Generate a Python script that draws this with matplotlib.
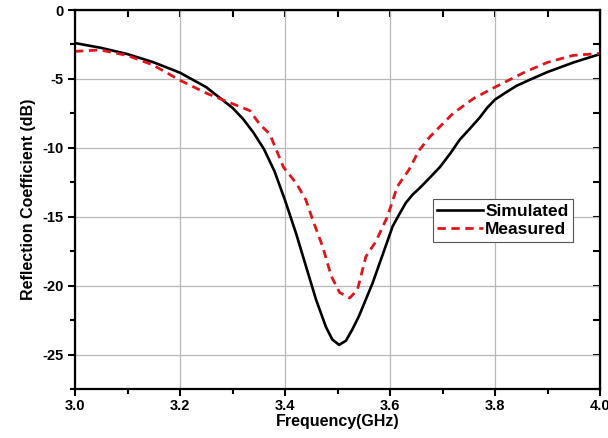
import matplotlib
matplotlib.use("Agg")
import matplotlib.pyplot as plt
from matplotlib.ticker import MultipleLocator

plt.rcParams['font.family'] = ['Liberation Sans', 'DejaVu Sans']
plt.rcParams['font.weight'] = 'bold'
plt.rcParams['axes.unicode_minus'] = False

# simulated S11
sim_f = [3.0, 3.05, 3.1, 3.15, 3.2, 3.25, 3.3, 3.32, 3.34, 3.36, 3.38, 3.4, 3.421,
         3.44, 3.459, 3.478, 3.49, 3.503, 3.516, 3.528, 3.541, 3.554, 3.567, 3.58,
         3.593, 3.605, 3.618, 3.63, 3.643, 3.657, 3.675, 3.695, 3.715, 3.733, 3.75,
         3.771, 3.785, 3.8, 3.82, 3.841, 3.87, 3.9, 3.95, 4.0]
sim_db = [-2.4, -2.75, -3.2, -3.8, -4.55, -5.6, -7.1, -7.9, -8.9, -10.1, -11.7, -13.8, -16.2,
          -18.6, -21.0, -23.0, -23.9, -24.3, -24.0, -23.2, -22.2, -21.0, -19.8, -18.4,
          -17.0, -15.7, -14.8, -14.0, -13.4, -12.9, -12.2, -11.4, -10.4, -9.4, -8.7,
          -7.8, -7.1, -6.5, -6.0, -5.5, -5.0, -4.5, -3.8, -3.2]

# measured S11
meas_f = [3.0, 3.048, 3.1, 3.149, 3.2, 3.251, 3.3, 3.333, 3.352, 3.371, 3.397, 3.422,
          3.44, 3.453, 3.472, 3.488, 3.504, 3.523, 3.538, 3.554, 3.573, 3.595,
          3.614, 3.636, 3.655, 3.676, 3.72, 3.76, 3.8, 3.857, 3.9, 3.948, 4.0]
meas_db = [-3.0, -2.9, -3.3, -4.0, -5.1, -6.05, -6.8, -7.3, -8.3, -9.0, -11.4, -12.6,
           -13.8, -15.25, -17.2, -19.3, -20.5, -20.9, -20.3, -17.9, -16.8, -15.0,
           -12.8, -11.6, -10.2, -9.2, -7.5, -6.4, -5.6, -4.5, -3.8, -3.3, -3.15]

fig = plt.figure(figsize=(6.08, 4.38), dpi=100)
ax = fig.add_axes([75/608, 1-389/438, 525/608, 379/438])

ax.plot(sim_f, sim_db, color='black', lw=1.9, label='Simulated')
ax.plot(meas_f, meas_db, color='#e0151b', lw=2.0, ls=(0, (3, 2)), label='Measured')

ax.set_xlim(3.0, 4.0)
ax.set_ylim(-27.5, 0)
ax.xaxis.set_major_locator(MultipleLocator(0.2))
ax.xaxis.set_minor_locator(MultipleLocator(0.1))
ax.yaxis.set_major_locator(MultipleLocator(5))
ax.yaxis.set_minor_locator(MultipleLocator(2.5))
ax.xaxis.set_major_formatter(plt.FormatStrFormatter('%.1f'))
ax.grid(True, which='major', color='#b8b8b8', lw=0.9)
ax.set_axisbelow(True)

ax.tick_params(which='both', direction='out', width=1.5, labelsize=10.5, pad=3)
ax.tick_params(axis='x', pad=2)
ax.tick_params(which='major', length=5)
ax.tick_params(which='minor', length=3.5)
for s in ax.spines.values():
    s.set_linewidth(1.6)

top = ax.secondary_xaxis('top')
top.xaxis.set_major_locator(MultipleLocator(0.1))
top.tick_params(direction='in', length=5, width=1.5, labeltop=False)
right = ax.secondary_yaxis('right')
right.yaxis.set_major_locator(MultipleLocator(2.5))
right.tick_params(direction='in', length=5, width=1.5, labelright=False)

ax.set_xlabel('Frequency(GHz)', fontsize=11.5, fontweight='bold', labelpad=1)
ax.set_ylabel('Reflection Coefficient (dB)', fontsize=11.5, fontweight='bold', labelpad=5)

leg = ax.legend(loc='upper right', bbox_to_anchor=(0.948, 0.501), borderaxespad=0,
                fancybox=False, edgecolor='#555555', framealpha=1,
                prop={'size': 12.5, 'weight': 'bold'}, handlelength=2.6,
                handletextpad=0.15, labelspacing=0.2, borderpad=0.25)
leg.get_frame().set_linewidth(0.8)

fig.savefig('out.png', dpi=100)
